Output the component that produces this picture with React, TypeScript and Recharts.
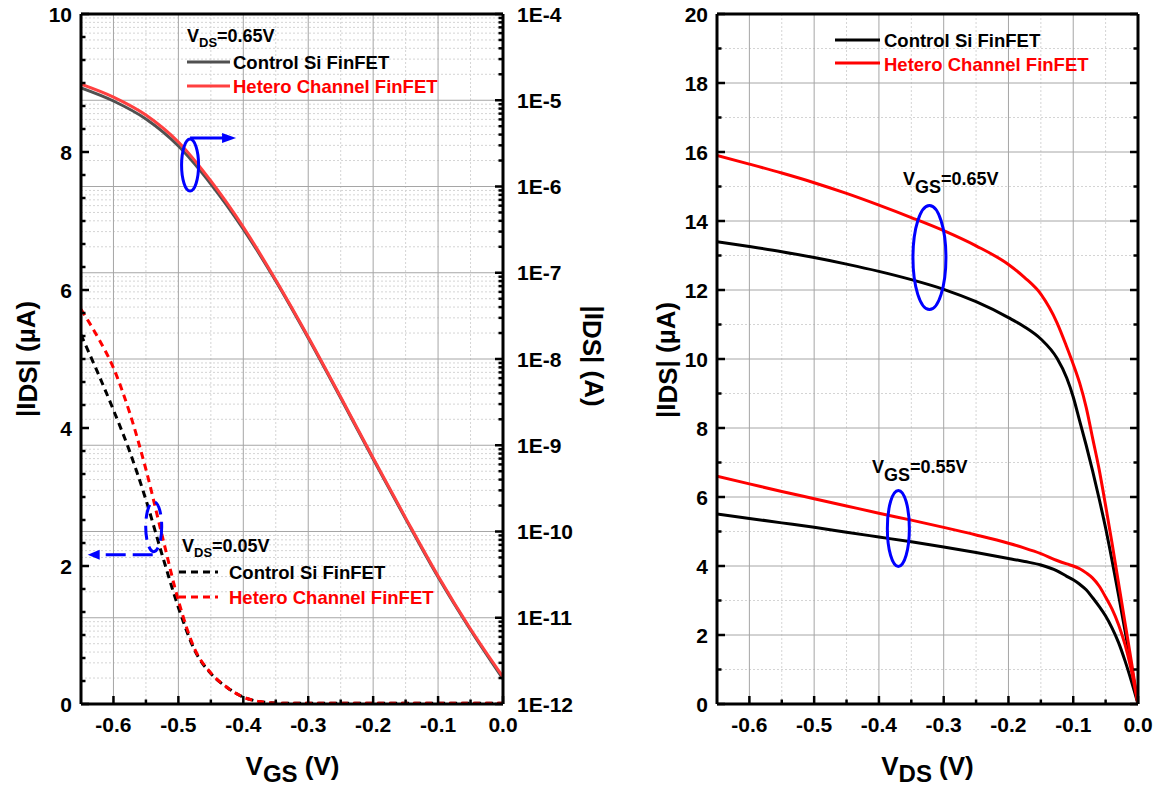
import React from 'react';
import { LineChart, Line, XAxis, YAxis, ReferenceLine, ReferenceDot } from 'recharts';

const FONT = '"Liberation Sans", Arial, Helvetica, sans-serif';

// ---- Transfer characteristics (left panel) ----
// |VDS| = 0.65 V, drawn on the logarithmic right axis (A)
const VGS_HIGH = [-0.65, -0.6, -0.55, -0.5, -0.45, -0.4, -0.35, -0.3, -0.25, -0.2, -0.15, -0.1, -0.05, 0];
const ID_CONTROL_HIGH = [1.39e-5, 9.8e-6, 6.06e-6, 2.95e-6, 1.07e-6, 3.21e-7, 8.02e-8, 1.75e-8, 3.53e-9, 6.93e-10, 1.4e-10, 2.96e-11, 7.21e-12, 1.95e-12];
const ID_HETERO_HIGH = [1.54e-5, 1.09e-5, 6.75e-6, 3.28e-6, 1.16e-6, 3.39e-7, 8.24e-8, 1.8e-8, 3.62e-9, 7.11e-10, 1.44e-10, 3.05e-11, 7.41e-12, 2.06e-12];

// |VDS| = 0.05 V, drawn on the linear left axis (µA)
const VGS_LOW = [-0.65, -0.625, -0.6, -0.575, -0.55, -0.525, -0.5, -0.475, -0.45, -0.425, -0.4, -0.375, -0.35, -0.325, -0.3, -0.25, -0.2, -0.15, -0.1, -0.05, 0];
const ID_CONTROL_LOW = [5.35, 4.82, 4.26, 3.66, 2.96, 2.16, 1.4, 0.78, 0.44, 0.24, 0.1, 0.035, 0.015, 0.01, 0.01, 0.01, 0.01, 0.01, 0.01, 0.01, 0.01];
const ID_HETERO_LOW = [5.72, 5.33, 4.87, 4.22, 3.4, 2.44, 1.5, 0.8, 0.45, 0.24, 0.1, 0.035, 0.015, 0.01, 0.01, 0.01, 0.01, 0.01, 0.01, 0.01, 0.01];

// ---- Output characteristics (right panel), µA ----
const VDS = [-0.65, -0.6, -0.55, -0.5, -0.45, -0.4, -0.35, -0.3, -0.25, -0.2, -0.175, -0.15, -0.125, -0.11, -0.1, -0.09, -0.08, -0.07, -0.06, -0.05, -0.04, -0.03, -0.02, -0.01, 0];
const ID_CONTROL_065 = [13.4, 13.26, 13.11, 12.94, 12.75, 12.54, 12.3, 12.02, 11.66, 11.2, 10.93, 10.58, 10.02, 9.45, 8.9, 8.2, 7.5, 6.75, 5.95, 5.1, 4.15, 3.15, 2.12, 1.07, 0];
const ID_HETERO_065 = [15.9, 15.65, 15.39, 15.11, 14.8, 14.46, 14.1, 13.72, 13.28, 12.74, 12.36, 11.88, 11.05, 10.35, 9.85, 9.3, 8.6, 7.7, 6.8, 5.75, 4.65, 3.5, 2.35, 1.2, 0];
const ID_CONTROL_055 = [5.51, 5.38, 5.25, 5.12, 4.98, 4.84, 4.7, 4.55, 4.39, 4.22, 4.13, 4.03, 3.86, 3.7, 3.6, 3.47, 3.31, 3.08, 2.83, 2.55, 2.2, 1.78, 1.25, 0.65, 0];
const ID_HETERO_055 = [6.6, 6.38, 6.16, 5.95, 5.74, 5.53, 5.33, 5.12, 4.9, 4.66, 4.52, 4.36, 4.16, 4.06, 4.0, 3.92, 3.8, 3.65, 3.42, 3.1, 2.75, 2.3, 1.72, 0.95, 0];

// ---- Axis ticks ----
const VOLT_DOMAIN: [number, number] = [-0.65, 0];
const VOLT_MAJOR = [-0.6, -0.5, -0.4, -0.3, -0.2, -0.1, 0];
const VOLT_MINOR = [-0.55, -0.45, -0.35, -0.25, -0.15, -0.05];
const LIN_MAJOR = [0, 2, 4, 6, 8, 10];
const OUT_MAJOR = [0, 2, 4, 6, 8, 10, 12, 14, 16, 18, 20];
const OUT_MINOR = [1, 3, 5, 7, 9, 11, 13, 15, 17, 19];
const LOG_DECADES = [-12, -11, -10, -9, -8, -7, -6, -5, -4];
const LOG_MANTISSAS = [2, 3, 4, 5, 6, 7, 8, 9];

// Highlight anchors (data coordinates)
const MARK_HIGH = { v: -0.482, i: 1.77e-6 };
const MARK_LOW = { v: -0.538, i: 2.57 };
const MARK_065 = { v: -0.322, i: 12.94 };
const MARK_055 = { v: -0.37, i: 5.09 };

// Left axis carries five minor ticks between labelled values
const LIN_MINOR = LIN_MAJOR.slice(0, -1).flatMap((m) => [1, 2, 3, 4, 5].map((k) => m + (k * 2) / 6));
const LOG_MAJOR = LOG_DECADES.map((n) => Math.pow(10, n));
const LOG_MINOR = LOG_DECADES.slice(0, -1).flatMap((n) => LOG_MANTISSAS.map((k) => k * Math.pow(10, n)));

const highRows = VGS_HIGH.map((v, i) => ({ v, control: ID_CONTROL_HIGH[i], hetero: ID_HETERO_HIGH[i] }));
const lowRows = VGS_LOW.map((v, i) => ({ v, control: ID_CONTROL_LOW[i], hetero: ID_HETERO_LOW[i] }));
const outRows = VDS.map((v, i) => ({
  v,
  c65: ID_CONTROL_065[i],
  h65: ID_HETERO_065[i],
  c55: ID_CONTROL_055[i],
  h55: ID_HETERO_055[i],
}));

const fmtVolt = (v: number) => (Math.abs(v) < 1e-9 ? '0.0' : v.toFixed(1));
const fmtInt = (v: number) => String(Math.round(v));
const fmtLog = (v: number) => `1E${Math.round(Math.log10(v))}`;

type Side = 'left' | 'right' | 'top' | 'bottom';
// relative comparison so that tiny log-axis values are told apart
const isIn = (list: number[], v: number) => list.some((m) => m === v || Math.abs(m - v) <= 1e-6 * Math.abs(m));

const TICK_FONT = { fontFamily: FONT, fontWeight: 700, fontSize: 21, fill: '#000' } as const;

// Inward-pointing tick marks with outside labels
function axisTick(side: Side, majors: number[], format?: (v: number) => string, gap = 9) {
  return (props: any) => {
    const { x, y, payload } = props;
    const v = Number(payload.value);
    const major = isIn(majors, v);
    const len = major ? 8 : 4.5;
    let x2 = x;
    let y2 = y;
    if (side === 'left') x2 = x + len;
    if (side === 'right') x2 = x - len;
    if (side === 'top') y2 = y + len;
    if (side === 'bottom') y2 = y - len;
    const label = major && format ? format(v) : null;
    return (
      <g>
        <line x1={x} y1={y} x2={x2} y2={y2} stroke="#000" strokeWidth={2.5} />
        {label && side === 'left' && (
          <text x={x - gap} y={y + 7.5} textAnchor="end" {...TICK_FONT}>{label}</text>
        )}
        {label && side === 'right' && (
          <text x={x + gap} y={y + 7.5} textAnchor="start" {...TICK_FONT}>{label}</text>
        )}
        {label && side === 'bottom' && (
          <text x={x} y={y + 28} textAnchor="middle" {...TICK_FONT}>{label}</text>
        )}
      </g>
    );
  };
}

const axisCommon = {
  tickSize: 0,
  tickMargin: 0,
  interval: 0 as const,
  tickLine: false,
  axisLine: { stroke: '#000', strokeWidth: 3 },
  allowDataOverflow: true,
};

const GRID_MAJOR = { stroke: '#a6a6a6', strokeWidth: 1 };
const GRID_MINOR = { stroke: '#d4d4d4', strokeWidth: 1, strokeDasharray: '2 2' };

function ellipseMark(rx: number, ry: number, extra?: (cx: number, cy: number) => React.ReactNode, dashed = false) {
  return (p: any) => (
    <g>
      <ellipse
        cx={p.cx}
        cy={p.cy}
        rx={rx}
        ry={ry}
        fill="none"
        stroke="#0000ff"
        strokeWidth={3}
        strokeDasharray={dashed ? '14 7' : undefined}
      />
      {extra ? extra(p.cx, p.cy) : null}
    </g>
  );
}

function TransferChart() {
  const voltTicks = [...VOLT_MAJOR, ...VOLT_MINOR].sort((a, b) => a - b);
  const linTicks = [...LIN_MAJOR, ...LIN_MINOR].sort((a, b) => a - b);
  const logTicks = [...LOG_MAJOR, ...LOG_MINOR].sort((a, b) => a - b);
  return (
    <LineChart width={620} height={788} margin={{ top: 0, right: 0, bottom: 0, left: 0 }}>
      <XAxis
        xAxisId="b"
        dataKey="v"
        type="number"
        domain={VOLT_DOMAIN}
        ticks={voltTicks}
        height={84}
        {...axisCommon}
        tick={axisTick('bottom', VOLT_MAJOR, fmtVolt)}
      />
      <XAxis
        xAxisId="t"
        orientation="top"
        type="number"
        domain={VOLT_DOMAIN}
        ticks={voltTicks}
        height={14}
        {...axisCommon}
        tick={axisTick('top', VOLT_MAJOR)}
      />
      <YAxis
        yAxisId="lin"
        type="number"
        domain={[0, 10]}
        ticks={linTicks}
        width={81}
        {...axisCommon}
        tick={axisTick('left', LIN_MAJOR, fmtInt, 9)}
      />
      <YAxis
        yAxisId="log"
        orientation="right"
        type="number"
        scale="log"
        domain={[1e-12, 1e-4]}
        ticks={logTicks}
        width={117}
        {...axisCommon}
        tick={axisTick('right', LOG_MAJOR, fmtLog, 14)}
      />

      {VOLT_MINOR.map((v) => (
        <ReferenceLine key={`vm${v}`} x={v} xAxisId="b" yAxisId="log" {...GRID_MINOR} />
      ))}
      {LOG_MINOR.map((v) => (
        <ReferenceLine key={`lm${v}`} y={v} xAxisId="b" yAxisId="log" {...GRID_MINOR} />
      ))}
      {VOLT_MAJOR.filter((v) => v < 0).map((v) => (
        <ReferenceLine key={`vM${v}`} x={v} xAxisId="b" yAxisId="log" {...GRID_MAJOR} />
      ))}
      {LOG_MAJOR.slice(1, -1).map((v) => (
        <ReferenceLine key={`lM${v}`} y={v} xAxisId="b" yAxisId="log" {...GRID_MAJOR} />
      ))}

      <Line data={highRows} xAxisId="b" yAxisId="log" dataKey="control" type="monotone" stroke="#505050" strokeWidth={3} dot={false} isAnimationActive={false} />
      <Line data={highRows} xAxisId="b" yAxisId="log" dataKey="hetero" type="monotone" stroke="#ff4040" strokeWidth={3} dot={false} isAnimationActive={false} />
      <Line data={lowRows} xAxisId="b" yAxisId="lin" dataKey="control" type="monotone" stroke="#000" strokeWidth={3} strokeDasharray="7 5" dot={false} isAnimationActive={false} />
      <Line data={lowRows} xAxisId="b" yAxisId="lin" dataKey="hetero" type="monotone" stroke="#ff0000" strokeWidth={3} strokeDasharray="7 5" dot={false} isAnimationActive={false} />

      <ReferenceDot
        x={MARK_HIGH.v}
        y={MARK_HIGH.i}
        xAxisId="b"
        yAxisId="log"
        r={0}
        ifOverflow="visible"
        shape={ellipseMark(8.5, 26, (cx, cy) => (
          <g>
            <line x1={cx} y1={cy - 27} x2={cx + 34} y2={cy - 27} stroke="#0000ff" strokeWidth={3} />
            <polygon points={`${cx + 46},${cy - 27} ${cx + 32},${cy - 32} ${cx + 32},${cy - 22}`} fill="#0000ff" />
          </g>
        ))}
      />
      <ReferenceDot
        x={MARK_LOW.v}
        y={MARK_LOW.i}
        xAxisId="b"
        yAxisId="lin"
        r={0}
        ifOverflow="visible"
        shape={ellipseMark(
          8,
          25,
          (cx, cy) => (
            <g>
              <line x1={cx - 1} y1={cy + 28} x2={cx - 54} y2={cy + 28} stroke="#0000ff" strokeWidth={3} strokeDasharray="20 7" />
              <polygon points={`${cx - 66},${cy + 28} ${cx - 54},${cy + 23} ${cx - 54},${cy + 33}`} fill="#0000ff" />
            </g>
          ),
          true
        )}
      />
    </LineChart>
  );
}

function OutputChart() {
  const voltTicks = [...VOLT_MAJOR, ...VOLT_MINOR].sort((a, b) => a - b);
  const iTicks = [...OUT_MAJOR, ...OUT_MINOR].sort((a, b) => a - b);
  return (
    <LineChart width={542} height={788} margin={{ top: 0, right: 0, bottom: 0, left: 0 }}>
      <XAxis
        xAxisId="b"
        dataKey="v"
        type="number"
        domain={VOLT_DOMAIN}
        ticks={voltTicks}
        height={84}
        {...axisCommon}
        tick={axisTick('bottom', VOLT_MAJOR, fmtVolt)}
      />
      <XAxis
        xAxisId="t"
        orientation="top"
        type="number"
        domain={VOLT_DOMAIN}
        ticks={voltTicks}
        height={14}
        {...axisCommon}
        tick={axisTick('top', VOLT_MAJOR)}
      />
      <YAxis
        yAxisId="l"
        type="number"
        domain={[0, 20]}
        ticks={iTicks}
        width={97}
        {...axisCommon}
        tick={axisTick('left', OUT_MAJOR, fmtInt, 9)}
      />
      <YAxis
        yAxisId="r"
        orientation="right"
        type="number"
        domain={[0, 20]}
        ticks={iTicks}
        width={24}
        {...axisCommon}
        tick={axisTick('right', OUT_MAJOR)}
      />

      {VOLT_MINOR.map((v) => (
        <ReferenceLine key={`vm${v}`} x={v} xAxisId="b" yAxisId="l" {...GRID_MINOR} />
      ))}
      {OUT_MINOR.map((v) => (
        <ReferenceLine key={`im${v}`} y={v} xAxisId="b" yAxisId="l" {...GRID_MINOR} />
      ))}
      {VOLT_MAJOR.filter((v) => v < 0).map((v) => (
        <ReferenceLine key={`vM${v}`} x={v} xAxisId="b" yAxisId="l" {...GRID_MAJOR} />
      ))}
      {OUT_MAJOR.slice(1, -1).map((v) => (
        <ReferenceLine key={`iM${v}`} y={v} xAxisId="b" yAxisId="l" {...GRID_MAJOR} />
      ))}

      <Line data={outRows} xAxisId="b" yAxisId="l" dataKey="c55" type="monotone" stroke="#000" strokeWidth={3} dot={false} isAnimationActive={false} />
      <Line data={outRows} xAxisId="b" yAxisId="l" dataKey="c65" type="monotone" stroke="#000" strokeWidth={3} dot={false} isAnimationActive={false} />
      <Line data={outRows} xAxisId="b" yAxisId="l" dataKey="h55" type="monotone" stroke="#ff0000" strokeWidth={3} dot={false} isAnimationActive={false} />
      <Line data={outRows} xAxisId="b" yAxisId="l" dataKey="h65" type="monotone" stroke="#ff0000" strokeWidth={3} dot={false} isAnimationActive={false} />

      <ReferenceDot x={MARK_065.v} y={MARK_065.i} xAxisId="b" yAxisId="l" r={0} ifOverflow="visible" shape={ellipseMark(16.5, 52)} />
      <ReferenceDot x={MARK_055.v} y={MARK_055.i} xAxisId="b" yAxisId="l" r={0} ifOverflow="visible" shape={ellipseMark(11, 38)} />
    </LineChart>
  );
}

const LEG = { fontFamily: FONT, fontWeight: 700, fontSize: 18.5 } as const;
const NOTE = { fontFamily: FONT, fontWeight: 700 } as const;

export default function App() {
  return (
    <div style={{ position: 'absolute', left: 0, top: 0, width: 1162, height: 788, background: '#fff' }}>
      <div style={{ position: 'absolute', left: 0, top: 0 }}>
        <TransferChart />
      </div>
      <div style={{ position: 'absolute', left: 620, top: 0 }}>
        <OutputChart />
      </div>
      <svg
        width={1162}
        height={788}
        style={{ position: 'absolute', left: 0, top: 0, pointerEvents: 'none' }}
      >
        {/* left panel: high-drain-bias legend */}
        <text x={187} y={42} {...NOTE} fontSize={18} fill="#000">
          V<tspan fontSize={13} dy={5}>DS</tspan>
          <tspan dy={-5}>=0.65V</tspan>
        </text>
        <line x1={187} y1={62} x2={230} y2={62} stroke="#505050" strokeWidth={3} />
        <text x={233} y={68.5} {...LEG} fill="#000">Control Si FinFET</text>
        <line x1={187} y1={86} x2={230} y2={86} stroke="#ff4040" strokeWidth={3} />
        <text x={233} y={92.5} {...LEG} fill="#ff0000">Hetero Channel FinFET</text>

        {/* left panel: low-drain-bias legend */}
        <text x={182} y={552} {...NOTE} fontSize={18} fill="#000">
          V<tspan fontSize={13} dy={5}>DS</tspan>
          <tspan dy={-5}>=0.05V</tspan>
        </text>
        <line x1={179} y1={572} x2={218} y2={572} stroke="#000" strokeWidth={3} strokeDasharray="7 5" />
        <text x={229} y={579} {...LEG} fill="#000">Control Si FinFET</text>
        <line x1={179} y1={597} x2={218} y2={597} stroke="#ff0000" strokeWidth={3} strokeDasharray="7 5" />
        <text x={229} y={603.5} {...LEG} fill="#ff0000">Hetero Channel FinFET</text>

        {/* right panel legend and bias notes */}
        <line x1={835} y1={40} x2={880} y2={40} stroke="#000" strokeWidth={3} />
        <text x={884} y={46.5} {...LEG} fill="#000">Control Si FinFET</text>
        <line x1={835} y1={63} x2={880} y2={63} stroke="#ff0000" strokeWidth={3} />
        <text x={884} y={70.5} {...LEG} fill="#ff0000">Hetero Channel FinFET</text>
        <text x={903} y={185} {...NOTE} fontSize={18} fill="#000">
          V<tspan dy={8}>GS</tspan>
          <tspan dy={-8}>=0.65V</tspan>
        </text>
        <text x={872} y={473} {...NOTE} fontSize={18} fill="#000">
          V<tspan dy={8}>GS</tspan>
          <tspan dy={-8}>=0.55V</tspan>
        </text>

        {/* axis titles */}
        <text x={292.5} y={775} textAnchor="middle" {...NOTE} fontSize={26} fill="#000">
          V<tspan fontSize={24} dy={7}>GS</tspan>
          <tspan dy={-7}> (V)</tspan>
        </text>
        <text x={927.5} y={775} textAnchor="middle" {...NOTE} fontSize={26} fill="#000">
          V<tspan fontSize={24} dy={7}>DS</tspan>
          <tspan dy={-7}> (V)</tspan>
        </text>
        <text transform="translate(35,359) rotate(-90)" textAnchor="middle" {...NOTE} fontSize={26} fill="#000">
          |I<tspan dy={2}>DS</tspan>
          <tspan dy={-2}>| (µA)</tspan>
        </text>
        <text transform="translate(585,356) rotate(90)" textAnchor="middle" {...NOTE} fontSize={26} fill="#000">
          |I<tspan dy={2}>DS</tspan>
          <tspan dy={-2}>| (A)</tspan>
        </text>
        <text transform="translate(675,360) rotate(-90)" textAnchor="middle" {...NOTE} fontSize={26} fill="#000">
          |I<tspan dy={2}>DS</tspan>
          <tspan dy={-2}>| (µA)</tspan>
        </text>
      </svg>
    </div>
  );
}
